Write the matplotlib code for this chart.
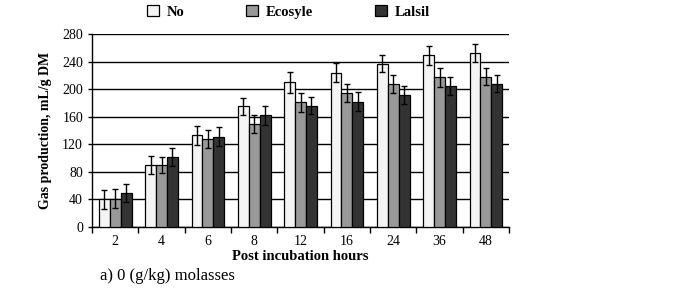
import numpy as np
import matplotlib.pyplot as plt
from matplotlib.ticker import FixedLocator, NullFormatter

plt.rcParams['font.family'] = ['Liberation Serif', 'DejaVu Serif']

# data
hours = ['2', '4', '6', '8', '12', '16', '24', '36', '48']
no_add = [40, 90, 133, 175, 210, 224, 237, 249, 253]
ecosyle = [41, 90, 127, 150, 181, 195, 207, 217, 218]
lalsil = [49, 102, 131, 162, 176, 182, 192, 205, 208]
err_no = [14, 13, 14, 12, 15, 14, 12, 14, 13]
err_eco = [14, 12, 13, 13, 14, 13, 13, 14, 12]
err_lal = [13, 13, 14, 14, 12, 14, 13, 13, 12]

x = np.arange(len(hours))
w = 0.235

fig = plt.figure(figsize=(6.87, 2.88), dpi=100)
ax = fig.add_axes([0.134, 0.212, 0.607, 0.670])

ekw = dict(ecolor='black', elinewidth=1.0, capsize=2.5, capthick=1.0)
ax.bar(x - w, no_add, w, yerr=err_no, color='#f4f4f4', edgecolor='black', linewidth=0.9,
       label='No', error_kw=ekw, zorder=3)
ax.bar(x, ecosyle, w, yerr=err_eco, color='#999999', edgecolor='black', linewidth=0.9,
       label='Ecosyle', error_kw=ekw, zorder=3)
ax.bar(x + w, lalsil, w, yerr=err_lal, color='#333333', edgecolor='black', linewidth=0.9,
       label='Lalsil', error_kw=ekw, zorder=3)

ax.set_xlim(-0.5, len(hours) - 0.5)
ax.set_ylim(0, 280)
ax.set_yticks(np.arange(0, 281, 40))
ax.yaxis.grid(True, color='black', linewidth=1.0, zorder=0)
ax.set_axisbelow(True)

ax.set_xticks(x)
ax.set_xticklabels(hours)
ax.xaxis.set_minor_locator(FixedLocator(np.arange(-0.5, len(hours), 1.0)))
ax.xaxis.set_minor_formatter(NullFormatter())
ax.tick_params(axis='x', which='major', length=0, labelsize=10, pad=6)
ax.tick_params(axis='x', which='minor', length=4, width=1.0, direction='out')
ax.tick_params(axis='y', length=3, width=1.0, labelsize=10)

for s in ['top', 'right']:
    ax.spines[s].set_visible(False)
ax.spines['left'].set_linewidth(1.0)
ax.spines['bottom'].set_linewidth(1.0)

ax.set_ylabel('Gas production, mL/g DM', fontsize=10, fontweight='bold', labelpad=7)
ax.set_xlabel('Post incubation hours', fontsize=10.5, fontweight='bold', labelpad=1)

fig.legend(loc='center left', bbox_to_anchor=(147 / 687, 1 - 12 / 288), ncol=3,
           frameon=False, prop={'weight': 'bold', 'size': 10.5},
           handlelength=0.8, handleheight=0.8, columnspacing=4.25,
           handletextpad=0.55, borderpad=0, borderaxespad=0)

fig.text(0.145, 0.04, 'a) 0 (g/kg) molasses', fontsize=12, va='center')

fig.savefig('out.png', dpi=100)
